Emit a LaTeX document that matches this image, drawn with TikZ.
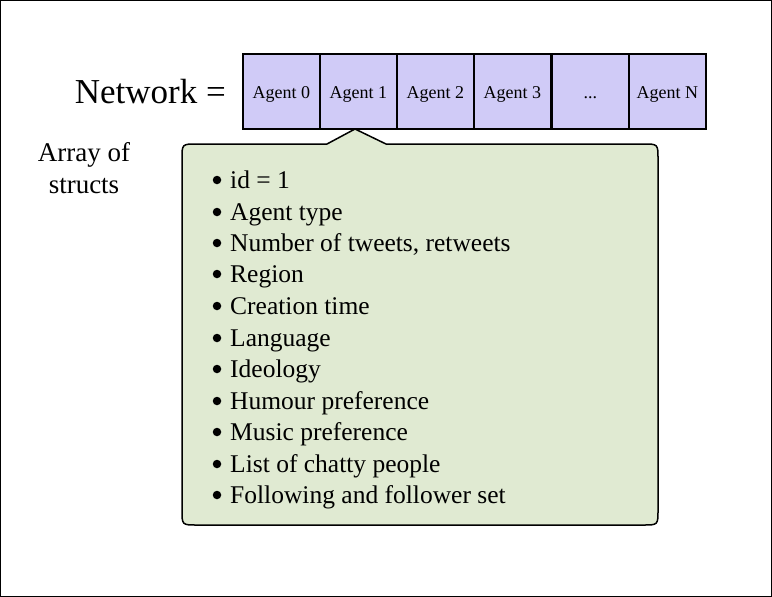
\documentclass[tikz,border=0pt]{standalone}
\usepackage{fontspec}
\setmainfont{Liberation Serif}
\definecolor{agentfill}{HTML}{D0CBF7}
\definecolor{calloutfill}{HTML}{E0EAD2}
\begin{document}
\begin{tikzpicture}[x=1pt,y=-1pt,
  agentbox/.style={draw=black,line width=1.6pt,fill=agentfill,minimum width=77pt,minimum height=75pt,inner sep=0pt,anchor=north west},
  agentlabel/.style={anchor=base,inner sep=0pt,font=\fontsize{18}{20}\selectfont},
  item/.style={anchor=base west,font=\fontsize{25.5}{27}\selectfont,inner sep=0pt},
  dot/.style={circle,fill=black,inner sep=0pt,minimum size=8.5pt}]
\draw[black,line width=1pt,fill=white] (0.5,0.5) rectangle (771.5,596.5);
\useasboundingbox (0,0) rectangle (772,597);
% agents
\foreach \x/\t [count=\i from 0] in {242/{Agent 0},319/{Agent 1},396/{Agent 2},473/{Agent 3},551/{.{}.{}.},628/{Agent N}}{
  \node[agentbox] (a\i) at (\x,53) {};
  \node[agentlabel] (l\i) at ([yshift=-7pt]a\i.center) {\t};
}
\node[anchor=base east,font=\fontsize{35}{38}\selectfont,inner sep=0pt] (net) at (226,103) {Network =};
\node[anchor=base,font=\fontsize{27}{30}\selectfont,inner sep=0pt] (arr1) at (84,161) {Array of};
\node[anchor=base,font=\fontsize{27}{30}\selectfont,inner sep=0pt] (arr2) at (84,193) {structs};
% callout
\coordinate (tip) at (355,129);
\draw[black,line width=1.5pt,fill=calloutfill,line join=miter]
  (327,144) -- (tip) -- (386,144) -- (643,144) .. controls (658,144) .. (658,159)
  -- (658,510) .. controls (658,525) .. (643,525)
  -- (197,525) .. controls (182,525) .. (182,510)
  -- (182,159) .. controls (182,144) .. (197,144) -- cycle;
\foreach \y/\t [count=\i] in {180/{id = 1},212/{Agent type},243/{Number of tweets, retweets},274/{Region},306/{Creation time},338/{Language},369/{Ideology},401/{Humour preference},432/{Music preference},464/{List of chatty people},495/{Following and follower set}}{
  \node[dot] (b\i) at (217,\y) {};
  \node[item] (t\i) at (230,\y+8) {\t};
}
\end{tikzpicture}
\end{document}
